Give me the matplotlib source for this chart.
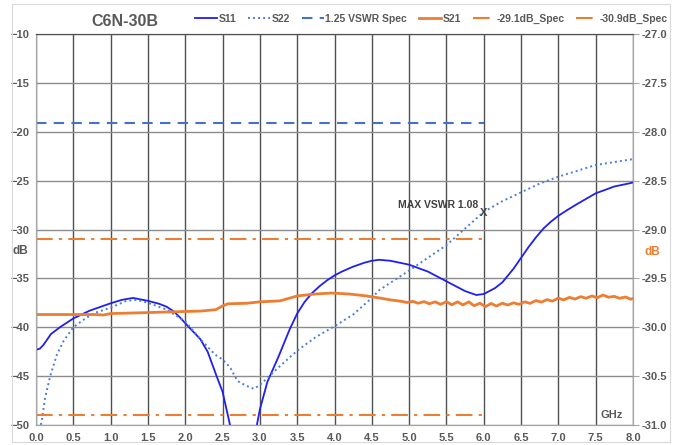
import matplotlib
matplotlib.use('Agg')
import matplotlib.pyplot as plt
from matplotlib.patches import Rectangle

plt.rcParams['font.family'] = ['Liberation Sans', 'DejaVu Sans']
plt.rcParams['font.weight'] = 'bold'

# S11 (left axis, dB)
s11_x = [0.0, 0.05, 0.1, 0.2, 0.32, 0.5, 0.72, 1.0, 1.15, 1.3, 1.5, 1.65, 1.75, 1.85, 1.93,
         2.05, 2.2, 2.3, 2.42, 2.5, 2.6, 2.7, 2.8, 2.9, 2.96, 3.0, 3.1, 3.25, 3.4, 3.5,
         3.6, 3.7, 3.8, 3.9, 4.0, 4.1, 4.25, 4.4, 4.5, 4.6, 4.75, 5.0, 5.25, 5.5, 5.75,
         5.9, 6.0, 6.15, 6.25, 6.4, 6.5, 6.6, 6.7, 6.8, 6.9, 7.0, 7.1, 7.25, 7.5, 7.75, 8.0]
s11_y = [-42.3, -42.2, -41.8, -40.7, -40.0, -39.1, -38.3, -37.55, -37.2, -37.0, -37.3, -37.6,
         -37.9, -38.4, -39.0, -40.0, -41.2, -42.5, -45.0, -46.6, -50.0, -54.0, -58.0, -54.0,
         -50.0, -48.4, -45.6, -43.0, -40.2, -38.6, -37.4, -36.5, -35.8, -35.2, -34.7, -34.3,
         -33.8, -33.4, -33.2, -33.1, -33.2, -33.6, -34.3, -35.3, -36.3, -36.7, -36.6, -36.0,
         -35.4, -34.0, -32.9, -31.8, -30.8, -29.9, -29.2, -28.6, -28.1, -27.4, -26.3, -25.6,
         -25.2]

# S22 (left axis, dB)
s22_x = [0.04, 0.08, 0.12, 0.19, 0.28, 0.37, 0.5, 0.68, 0.8, 1.0, 1.21, 1.35, 1.5, 1.75, 2.0,
         2.2, 2.4, 2.5, 2.6, 2.7, 2.82, 2.92, 3.0, 3.1, 3.25, 3.5, 3.75, 4.0, 4.25, 4.5,
         4.6, 5.0, 5.5, 6.0, 6.25, 6.5, 6.75, 7.0, 7.5, 8.0]
s22_y = [-51.0, -49.4, -47.3, -45.0, -42.8, -41.4, -40.0, -39.0, -38.5, -38.0, -37.3, -37.2,
         -37.5, -38.2, -39.4, -41.2, -42.8, -43.3, -44.1, -45.5, -46.0, -46.3, -45.9, -45.2,
         -44.1, -42.4, -41.0, -39.9, -38.7, -37.0, -36.2, -34.2, -31.6, -28.2, -27.1, -26.2,
         -25.3, -24.6, -23.4, -22.8]

# S21 (right axis, dB)
s21_x = [0.0, 0.5, 0.8, 0.9, 1.0, 1.5, 1.93, 2.2, 2.41, 2.48, 2.57, 2.82, 3.0, 3.27, 3.5,
         3.74, 3.96, 4.2, 4.43, 4.6, 4.75,
         4.90, 4.97, 5.05, 5.12, 5.20, 5.27, 5.35, 5.42, 5.50, 5.57, 5.65, 5.72, 5.80, 5.87,
         5.95, 6.02, 6.10, 6.17, 6.25, 6.32, 6.40, 6.47, 6.55, 6.62, 6.70, 6.77, 6.85, 6.92,
         7.00, 7.07, 7.15, 7.22, 7.30, 7.37, 7.45, 7.52, 7.60, 7.67, 7.75, 7.82, 7.90, 7.97, 8.00]
s21_y = [-29.87, -29.87, -29.87, -29.875, -29.86, -29.85, -29.84, -29.835, -29.82, -29.79,
         -29.76, -29.755, -29.74, -29.73, -29.68, -29.66, -29.65, -29.66, -29.68, -29.70,
         -29.72,
         -29.735, -29.747, -29.735, -29.755, -29.737, -29.760, -29.740, -29.766, -29.738,
         -29.770, -29.740, -29.772, -29.740, -29.780, -29.754, -29.790, -29.757, -29.783,
         -29.754, -29.773, -29.750, -29.766, -29.740, -29.756, -29.727, -29.743, -29.717,
         -29.733, -29.702, -29.720, -29.694, -29.712, -29.687, -29.703, -29.680, -29.698,
         -29.670, -29.693, -29.684, -29.704, -29.690, -29.714, -29.705]

spec_x = [0.0, 6.0]
vswr_spec = -19.08
spec_hi = -29.1
spec_lo = -30.9

max_x, max_y = 6.0, -28.3

gray = '#595959'
orange = '#ED7D31'

fig = plt.figure(figsize=(6.74, 4.45), dpi=100)
fig.patches.append(Rectangle((12 / 674, 3 / 445), 658 / 674, 438 / 445, transform=fig.transFigure,
                             fill=False, edgecolor='#D9D9D9', linewidth=0.8))
ax = fig.add_axes([36 / 674, 1 - 425 / 445, 597 / 674, 391 / 445])
ax2 = ax.twinx()

l1, = ax.plot(s11_x, s11_y, color='#1F1FF0', lw=1.3, label='S11')
l2, = ax.plot(s22_x, s22_y, color='#4A7FD8', lw=1.4, ls=(0, (1, 1.6)), label='S22')
l3, = ax.plot(spec_x, [vswr_spec, vswr_spec], color='#4472C4', lw=1.5, ls=(0, (5, 3.5)),
              label='1.25 VSWR Spec')
l4, = ax2.plot(s21_x, s21_y, color=orange, lw=2.0, label='S21')
l5, = ax2.plot(spec_x, [spec_hi, spec_hi], color=orange, lw=1.5, ls=(0, (8, 3, 1.5, 3)),
               label='-29.1dB_Spec')
l6, = ax2.plot(spec_x, [spec_lo, spec_lo], color=orange, lw=1.5, ls=(0, (8, 3, 1.5, 3)),
               label='-30.9dB_Spec')

ax.set_xlim(0, 8)
ax.set_ylim(-50, -10)
ax2.set_ylim(-31, -27)
ax.set_xticks([i * 0.5 for i in range(17)])
ax.set_xticklabels([f'{i * 0.5:.1f}' for i in range(17)])
ax.set_yticks(range(-50, -9, 5))
ax2.set_yticks([-31 + i * 0.5 for i in range(9)])
ax2.set_yticklabels([f'{-31 + i * 0.5:.1f}' for i in range(9)])

ax.grid(True, axis='x', color='#505050', lw=1.0)
ax.grid(True, axis='y', color='#8C8C8C', lw=1.0)
ax.set_axisbelow(True)
for a in (ax, ax2):
    for s in a.spines.values():
        s.set_color('#A6A6A6')
    a.spines['top'].set_color('#505050')
ax.tick_params(axis='both', length=0, labelsize=8, labelcolor=gray)
ax.tick_params(axis='x', pad=6)
ax.tick_params(axis='y', pad=5)
ax2.tick_params(axis='y', length=4, color='#A6A6A6', labelsize=8, labelcolor=gray, pad=2)

ax.text(max_x, max_y, 'X', ha='center', va='center', fontsize=8, color='#404040')
ax.text(5.93, -27.45, 'MAX VSWR 1.08', ha='right', va='center', fontsize=7.5, color='#404040')
ax.text(7.72, -49.0, 'GHz', ha='center', va='center', fontsize=8, color=gray)

fig.text(20 / 674, 1 - 251 / 445, 'dB', ha='center', va='center', fontsize=8.5, color=gray)
fig.text(652 / 674, 1 - 252 / 445, 'dB', ha='center', va='center', fontsize=8.5, color=orange)
fig.text(125 / 674, 1 - 21 / 445, 'C6N-30B', ha='center', va='center', fontsize=11.5,
         color=gray)

fig.legend(handles=[l1, l2, l3, l4, l5, l6], loc='center right', ncol=6,
           bbox_to_anchor=(668 / 674, 1 - 19 / 445), frameon=False, fontsize=7.5,
           labelcolor=gray, handlelength=2.1, handletextpad=0.15, columnspacing=1.15,
           borderpad=0, borderaxespad=0)

fig.savefig('out.png', dpi=100)
